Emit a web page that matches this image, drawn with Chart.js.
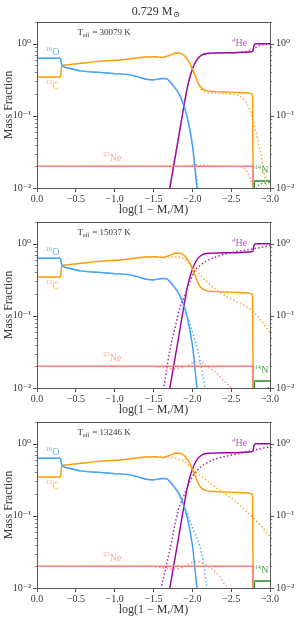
<!DOCTYPE html>
<html>
<head>
<meta charset="utf-8">
<script src="https://cdn.jsdelivr.net/npm/chart.js@4.4.1/dist/chart.umd.min.js"></script>
<style>
  body { margin: 0; background: #fff; }
  .panel { position: absolute; left: 0; width: 301px; height: 224px; }
</style>
</head>
<body>
<div class="panel" style="top:0"><canvas id="c1" width="301" height="224"></canvas></div>
<div class="panel" style="top:200px"><canvas id="c2" width="301" height="224"></canvas></div>
<div class="panel" style="top:400px"><canvas id="c3" width="301" height="224"></canvas></div>
<script>
// initial profiles (solid), same in every panel: [log(1-Mr/M), mass fraction]
const O_INIT = [[0,0.63],[-0.29,0.63],[-0.305,0.61],[-0.315,0.53],[-0.33,0.49],[-0.40,0.46],[-0.56,0.42],[-0.8,0.40],[-1.0,0.385],[-1.2,0.37],[-1.33,0.34],[-1.42,0.32],[-1.5,0.315],[-1.6,0.33],[-1.67,0.325],[-1.72,0.29],[-1.77,0.25],[-1.82,0.21],[-1.87,0.16],[-1.93,0.10],[-2.0,0.04],[-2.06,0.01],[-2.1,0.005]];
const C_INIT = [[0,0.345],[-0.29,0.345],[-0.305,0.36],[-0.315,0.47],[-0.33,0.5],[-0.40,0.51],[-0.56,0.535],[-0.8,0.57],[-1.1,0.6],[-1.4,0.655],[-1.52,0.66],[-1.62,0.645],[-1.72,0.7],[-1.8,0.745],[-1.86,0.73],[-1.91,0.66],[-1.96,0.55],[-2.01,0.42],[-2.06,0.31],[-2.1,0.255],[-2.17,0.225],[-2.3,0.217],[-2.5,0.213],[-2.7,0.207],[-2.775,0.198],[-2.785,0.003]];
const HE_INIT = [[-1.65,0.004],[-1.71,0.01],[-1.80,0.036],[-1.88,0.115],[-1.94,0.26],[-1.98,0.38],[-2.02,0.5],[-2.06,0.6],[-2.1,0.67],[-2.15,0.72],[-2.25,0.74],[-2.5,0.75],[-2.76,0.775],[-2.78,0.79],[-2.795,0.95],[-2.82,1.0],[-3.0,1.0]];
const NE_INIT = [[0,0.02],[-2.78,0.02],[-2.785,0.002]];
const N_INIT = [[-2.795,0.002],[-2.8,0.0125],[-3.0,0.0125]];

// diffused profiles (dotted), Teff = 30079 K
const O_30079 = [[0,0.63],[-0.29,0.63],[-0.305,0.61],[-0.315,0.53],[-0.33,0.49],[-0.40,0.46],[-0.56,0.42],[-0.8,0.40],[-1.0,0.385],[-1.2,0.37],[-1.33,0.34],[-1.42,0.32],[-1.5,0.315],[-1.6,0.33],[-1.67,0.325],[-1.72,0.29],[-1.77,0.25],[-1.82,0.21],[-1.87,0.162],[-1.93,0.102],[-2.0,0.042],[-2.07,0.01],[-2.11,0.005]];
const C_30079 = [[0,0.345],[-0.29,0.345],[-0.305,0.36],[-0.315,0.47],[-0.33,0.5],[-0.40,0.51],[-0.56,0.535],[-0.8,0.57],[-1.1,0.6],[-1.4,0.655],[-1.52,0.66],[-1.62,0.645],[-1.72,0.7],[-1.8,0.74],[-1.86,0.725],[-1.91,0.66],[-1.96,0.55],[-2.01,0.43],[-2.06,0.32],[-2.1,0.245],[-2.17,0.215],[-2.3,0.207],[-2.5,0.2],[-2.6,0.19],[-2.68,0.16],[-2.75,0.115],[-2.81,0.065],[-2.88,0.03],[-2.96,0.01],[-3.0,0.006]];
const HE_30079 = [[-1.65,0.004],[-1.71,0.01],[-1.80,0.037],[-1.88,0.118],[-1.94,0.26],[-1.98,0.38],[-2.02,0.5],[-2.06,0.6],[-2.1,0.67],[-2.15,0.71],[-2.25,0.735],[-2.5,0.755],[-2.65,0.77],[-2.72,0.79],[-2.78,0.84],[-2.84,0.92],[-2.9,0.97],[-3.0,0.99]];
const NE_30079 = [[0,0.02],[-1.8,0.02],[-1.95,0.0205],[-2.05,0.021],[-2.2,0.0205],[-2.5,0.02],[-2.62,0.0195],[-2.68,0.0183],[-2.74,0.014],[-2.78,0.01],[-2.82,0.006]];
const N_30079 = [[-2.80,0.006],[-2.84,0.0105],[-2.9,0.0115],[-3.0,0.012]];

// diffused profiles (dotted), Teff = 15037 K
const O_15037 = [[0,0.63],[-0.29,0.63],[-0.305,0.61],[-0.315,0.53],[-0.33,0.49],[-0.40,0.46],[-0.56,0.42],[-0.8,0.40],[-1.0,0.385],[-1.2,0.37],[-1.33,0.34],[-1.42,0.32],[-1.5,0.315],[-1.6,0.33],[-1.67,0.325],[-1.72,0.29],[-1.77,0.25],[-1.82,0.205],[-1.87,0.165],[-1.95,0.088],[-2.0,0.06],[-2.06,0.037],[-2.12,0.018],[-2.16,0.0105],[-2.2,0.006]];
const C_15037 = [[0,0.345],[-0.29,0.345],[-0.305,0.36],[-0.315,0.47],[-0.33,0.5],[-0.40,0.51],[-0.56,0.535],[-0.8,0.57],[-1.1,0.6],[-1.4,0.655],[-1.52,0.66],[-1.62,0.645],[-1.7,0.655],[-1.8,0.655],[-1.88,0.63],[-1.97,0.52],[-2.03,0.45],[-2.1,0.37],[-2.2,0.29],[-2.31,0.23],[-2.55,0.16],[-2.74,0.125],[-2.87,0.09],[-3.0,0.058]];
const HE_15037 = [[-1.58,0.006],[-1.63,0.01],[-1.71,0.033],[-1.78,0.07],[-1.84,0.13],[-1.91,0.2],[-1.97,0.3],[-2.03,0.42],[-2.1,0.5],[-2.2,0.59],[-2.31,0.66],[-2.52,0.76],[-2.76,0.84],[-2.96,0.92],[-3.0,0.94]];
const NE_15037 = [[0,0.02],[-1.4,0.02],[-1.6,0.0195],[-1.75,0.0185],[-1.85,0.019],[-1.95,0.021],[-2.05,0.023],[-2.12,0.0225],[-2.2,0.0195],[-2.3,0.0165],[-2.39,0.013],[-2.5,0.01],[-2.6,0.007]];
const N_15037 = [[-2.85,0.006],[-2.95,0.0095],[-3.0,0.0105]];

// diffused profiles (dotted), Teff = 13246 K
const O_13246 = [[0,0.63],[-0.29,0.63],[-0.305,0.61],[-0.315,0.53],[-0.33,0.49],[-0.40,0.46],[-0.56,0.42],[-0.8,0.40],[-1.0,0.385],[-1.2,0.37],[-1.33,0.34],[-1.42,0.32],[-1.5,0.315],[-1.6,0.33],[-1.67,0.325],[-1.72,0.29],[-1.77,0.25],[-1.82,0.205],[-1.87,0.16],[-1.95,0.096],[-2.02,0.062],[-2.1,0.037],[-2.15,0.02],[-2.185,0.0105],[-2.22,0.006]];
const C_13246 = [[0,0.345],[-0.29,0.345],[-0.305,0.36],[-0.315,0.47],[-0.33,0.5],[-0.40,0.51],[-0.56,0.535],[-0.8,0.57],[-1.1,0.6],[-1.4,0.655],[-1.52,0.66],[-1.62,0.645],[-1.7,0.65],[-1.8,0.63],[-1.88,0.58],[-1.96,0.49],[-2.04,0.41],[-2.15,0.33],[-2.31,0.245],[-2.55,0.16],[-2.7,0.115],[-2.87,0.075],[-3.0,0.052]];
const HE_13246 = [[-1.56,0.006],[-1.60,0.01],[-1.70,0.03],[-1.82,0.12],[-1.9,0.2],[-1.97,0.3],[-2.03,0.39],[-2.1,0.47],[-2.2,0.55],[-2.31,0.62],[-2.52,0.7],[-2.74,0.79],[-2.96,0.89],[-3.0,0.905]];
const NE_13246 = [[0,0.02],[-1.45,0.02],[-1.6,0.0192],[-1.75,0.0182],[-1.85,0.019],[-1.95,0.0215],[-2.05,0.023],[-2.12,0.0225],[-2.23,0.019],[-2.35,0.0145],[-2.41,0.0115],[-2.46,0.01],[-2.55,0.0065]];
const N_13246 = [[-2.9,0.007],[-3.0,0.0102]];

const TEFF = ['30079', '15037', '13246'];
const MASS_LABEL = '0.729';
const Y_TICKS = [0.01,0.02,0.03,0.04,0.05,0.06,0.07,0.08,0.09,0.1,0.2,0.3,0.4,0.5,0.6,0.7,0.8,0.9,1,2];
const Y_MAJOR = [0.01, 0.1, 1];
const Y_MAJOR_LABELS = ['10⁻²', '10⁻¹', '10⁰'];

const FONT = "'Liberation Serif', 'DejaVu Serif', serif";
const AXIS_COLOR = '#555555';
const TEXT_COLOR = '#333333';
const COLORS = { O: '#3399ff', C: '#ff9900', He: '#990099', Ne: '#fa8072', N: '#228b22' };
const DOT_COLORS = { O: '#5aacff', C: '#ffa733', He: '#a526a5', Ne: '#f99a8f', N: '#3a9a3a' };
const LABEL_COLORS = { O: '#6fb5f7', C: '#ffae52', He: '#b45ab4', Ne: '#f7a59b', N: '#4aa84a' };

// where the element names sit, in data units
const ISO_LABELS = [
  { key: 'O', sup: '16', el: 'O', x: -0.11, y: 0.76 },
  { key: 'C', sup: '12', el: 'C', x: -0.11, y: 0.26 },
  { key: 'He', sup: '4', el: 'He', x: -2.51, y: 1.0 },
  { key: 'Ne', sup: '22', el: 'Ne', x: -0.85, y: 0.026 },
  { key: 'N', sup: '14', el: 'N', x: -2.80, y: 0.0174 }
];

Chart.defaults.font.family = FONT;
Chart.defaults.color = TEXT_COLOR;

function series(points, color, dotted) {
  return {
    data: points.map(p => ({ x: p[0], y: p[1] })),
    borderColor: color,
    borderWidth: dotted ? 1.5 : 1.4,
    borderDash: dotted ? [1.5, 2.2] : [],
    pointRadius: 0,
    fill: false,
    cubicInterpolationMode: 'monotone'
  };
}

function yLabel(v) {
  const i = Y_MAJOR.findIndex(m => Math.abs(m - v) < 1e-9);
  return i >= 0 ? Y_MAJOR_LABELS[i] : '';
}

// frame, minor/major ticks on the log axes, isotope names, Teff, title
const panelDecor = {
  id: 'panelDecor',
  afterDatasetsDraw(chart, args, opts) {
    const { ctx, chartArea: a, scales } = chart;
    ctx.save();
    ctx.strokeStyle = AXIS_COLOR;
    ctx.lineWidth = 1;
    ctx.strokeRect(Math.round(a.left) + 0.5, Math.round(a.top) + 0.5, Math.round(a.width), Math.round(a.height));

    ['y', 'y2'].forEach(id => {
      const s = scales[id];
      s.ticks.forEach(t => {
        const py = Math.round(s.getPixelForValue(t.value)) + 0.5;
        if (py < a.top - 1 || py > a.bottom + 1) return;
        const len = yLabel(t.value) ? 4 : 2.2;
        ctx.lineWidth = yLabel(t.value) ? 1 : 0.7;
        ctx.beginPath();
        if (id === 'y') { ctx.moveTo(a.left, py); ctx.lineTo(a.left - len, py); }
        else { ctx.moveTo(a.right, py); ctx.lineTo(a.right + len, py); }
        ctx.stroke();
      });
    });

    ctx.textAlign = 'left';
    ctx.textBaseline = 'middle';
    ISO_LABELS.forEach(l => {
      const x = scales.x.getPixelForValue(l.x);
      const y = scales.y.getPixelForValue(l.y);
      ctx.fillStyle = LABEL_COLORS[l.key];
      ctx.font = '6.5px ' + FONT;
      ctx.fillText(l.sup, x, y - 3.5);
      const w = ctx.measureText(l.sup).width;
      ctx.font = '10px ' + FONT;
      ctx.fillText(l.el, x + w + 0.3, y);
    });

    // T_eff label
    ctx.fillStyle = TEXT_COLOR;
    let tx = scales.x.getPixelForValue(-0.52);
    const ty = scales.y.getPixelForValue(1.42);
    ctx.font = '9px ' + FONT;
    ctx.fillText('T', tx, ty);
    tx += ctx.measureText('T').width;
    ctx.font = '6px ' + FONT;
    ctx.fillText('eff', tx, ty + 2.5);
    tx += ctx.measureText('eff').width + 0.5;
    ctx.font = '9px ' + FONT;
    ctx.fillText(' = ' + opts.teff + ' K', tx, ty);

    if (opts.title) {
      ctx.font = '12px ' + FONT;
      const main = MASS_LABEL + ' M';
      const wMain = ctx.measureText(main).width;
      ctx.font = '8px ' + FONT;
      const wSun = ctx.measureText('⊙').width;
      let x0 = (a.left + a.right) / 2 - (wMain + wSun) / 2 + 2;
      ctx.font = '12px ' + FONT;
      ctx.fillText(main, x0, 12);
      ctx.font = '8px ' + FONT;
      ctx.fillText('⊙', x0 + wMain + 0.5, 15);
    }
    ctx.restore();
  }
};

function makePanel(canvasId, sets, teff, withTitle) {
  const keys = ['Ne', 'O', 'C', 'He', 'N'];
  const datasets = [];
  keys.forEach(k => datasets.push(series(sets[k], DOT_COLORS[k], true)));
  const init = { O: O_INIT, C: C_INIT, He: HE_INIT, Ne: NE_INIT, N: N_INIT };
  keys.forEach(k => datasets.push(series(init[k], COLORS[k], false)));

  const logAxis = (position, width) => ({
    type: 'logarithmic',
    position: position,
    min: 0.01,
    max: 2,
    afterBuildTicks: s => { s.ticks = Y_TICKS.map(v => ({ value: v })); },
    afterFit: s => { s.width = width; },
    grid: { display: true, drawOnChartArea: false, drawTicks: false },
    border: { display: false },
    ticks: {
      autoSkip: false,
      padding: 6,
      color: TEXT_COLOR,
      font: { size: 10 },
      callback: v => yLabel(v)
    }
  });

  const left = logAxis('left', 37);
  left.title = { display: true, text: 'Mass Fraction', font: { size: 12 }, color: TEXT_COLOR, padding: { top: 2, bottom: 0 } };

  new Chart(document.getElementById(canvasId), {
    type: 'line',
    data: { datasets: datasets },
    plugins: [panelDecor],
    options: {
      responsive: false,
      animation: false,
      layout: { padding: { top: 22, left: 0, right: 0, bottom: 0 } },
      plugins: {
        legend: { display: false },
        tooltip: { enabled: false },
        panelDecor: { teff: teff, title: withTitle }
      },
      scales: {
        x: {
          type: 'linear',
          min: -3,
          max: 0,
          reverse: true,
          afterFit: s => { s.height = 36; },
          grid: { display: true, drawOnChartArea: false, drawTicks: true, tickLength: 4, color: AXIS_COLOR },
          border: { display: false },
          ticks: {
            stepSize: 0.5,
            padding: 1,
            maxRotation: 0,
            color: TEXT_COLOR,
            font: { size: 10 },
            callback: v => (v === 0 ? '0.0' : '\u2212' + Math.abs(v).toFixed(1))
          },
          title: { display: true, text: 'log(1 \u2212 M\u1D63/M)', font: { size: 12 }, color: TEXT_COLOR, padding: { top: 0, bottom: 7 } }
        },
        y: left,
        y2: logAxis('right', 31)
      }
    }
  });
}

makePanel('c1', { O: O_30079, C: C_30079, He: HE_30079, Ne: NE_30079, N: N_30079 }, TEFF[0], true);
makePanel('c2', { O: O_15037, C: C_15037, He: HE_15037, Ne: NE_15037, N: N_15037 }, TEFF[1], false);
makePanel('c3', { O: O_13246, C: C_13246, He: HE_13246, Ne: NE_13246, N: N_13246 }, TEFF[2], false);
</script>
</body>
</html>
